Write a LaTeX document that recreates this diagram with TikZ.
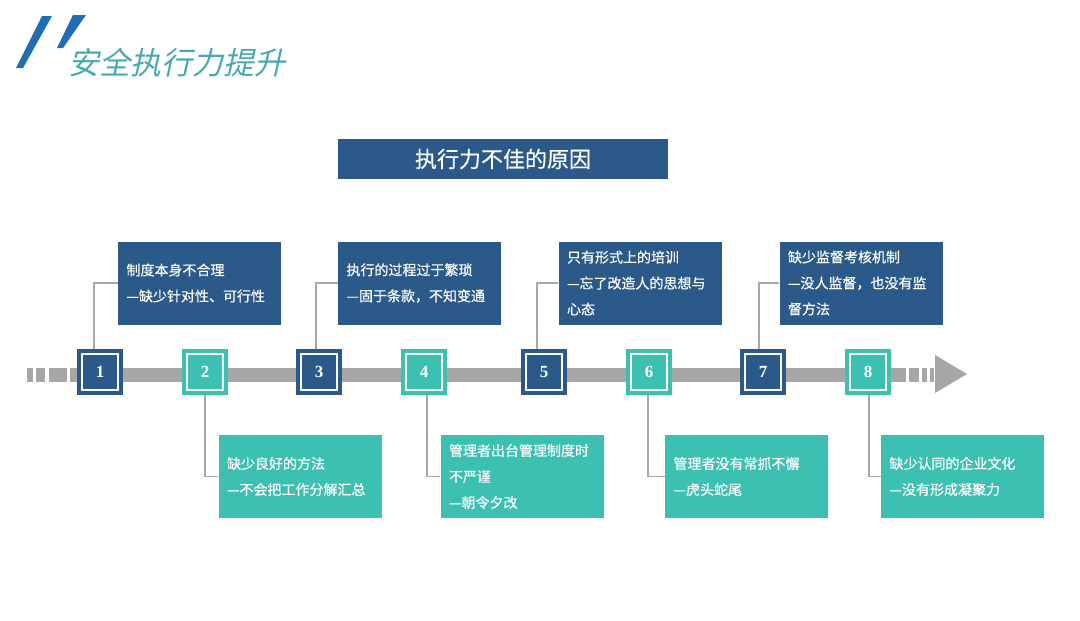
\documentclass[tikz,border=0pt]{standalone}
\usepackage{fontspec}
\setmainfont{Noto Sans CJK SC}
\newfontfamily\titlefont[FakeSlant=0.22]{Noto Sans CJK SC}
\newfontfamily\boxfont[FakeBold=0.4]{Noto Sans CJK SC}
\newfontfamily\numfont{Liberation Serif}
\definecolor{dblue}{HTML}{2B5A8A}
\definecolor{tealb}{HTML}{3CC0B1}
\definecolor{bargray}{HTML}{A6A6A6}
\definecolor{linegray}{HTML}{A8A8A8}
\definecolor{titleblue}{HTML}{1E6DB5}
\definecolor{titleteal}{HTML}{48A9B2}
\tikzset{
  numsq/.style={minimum size=46pt, inner sep=0pt, text=white, fill=#1,
    font=\numfont\bfseries\fontsize{17}{17}\selectfont,
    path picture={\draw[white,line width=2pt]
      ([shift={(5pt,5pt)}]path picture bounding box.south west) rectangle
      ([shift={(-5pt,-5pt)}]path picture bounding box.north east);}},
  txtbox/.style={fill=#1, minimum width=163pt, minimum height=83pt, text width=146pt,
    inner sep=0pt, align=left, text=white, font=\boxfont\fontsize{14}{26}\selectfont},
  conn/.style={draw=linegray, line width=1.1pt},
  barpart/.style={fill=bargray}
}
\begin{document}
\begin{tikzpicture}[x=1pt,y=-1pt]
\useasboundingbox (0,0) rectangle (1080,621);
\fill[white] (0,0) rectangle (1080,621);
% title decoration
\fill[titleblue] (16,68) -- (23,68) -- (52,16) -- (42,16) -- cycle;
\fill[titleblue] (57,48) -- (63,48) -- (86,15) -- (73,15) -- cycle;
\node[anchor=west, inner sep=0pt, font=\titlefont\fontsize{31}{31}\selectfont, text=titleteal] (title) at (68,63) {安全执行力提升};
% header
\node[fill=dblue, minimum width=330pt, minimum height=40pt, inner sep=0pt, text=white, font=\boxfont\fontsize{22}{22}\selectfont] (head) at (503,159) {执行力不佳的原因};
% timeline bar
\fill[barpart] (27,368) rectangle (33,382);
\fill[barpart] (36,368) rectangle (45,382);
\fill[barpart] (49,368) rectangle (67,382);
\fill[barpart] (70,368) rectangle (892,382);
\fill[barpart] (892,368) rectangle (906,382);
\fill[barpart] (909,368) rectangle (919,382);
\fill[barpart] (922,368) rectangle (927,382);
\fill[barpart] (930,368) rectangle (934,382);
\fill[barpart] (935,355) -- (967,374) -- (935,393) -- cycle;
% text boxes
\node[txtbox=dblue] (b1) at (199.5,283) {制度本身不合理\\—缺少针对性、可行性};
\node[txtbox=dblue] (b3) at (419.5,283) {执行的过程过于繁琐\\—固于条款，不知变通};
\node[txtbox=dblue] (b5) at (640,283) {只有形式上的培训\\—忘了改造人的思想与\\心态};
\node[txtbox=dblue] (b7) at (861,283) {缺少监督考核机制\\—没人监督，也没有监\\督方法};
\node[txtbox=tealb] (b2) at (300,476.5) {缺少良好的方法\\—不会把工作分解汇总};
\node[txtbox=tealb] (b4) at (522,476.5) {管理者出台管理制度时\\不严谨\\—朝令夕改};
\node[txtbox=tealb] (b6) at (746.5,476.5) {管理者没有常抓不懈\\—虎头蛇尾};
\node[txtbox=tealb] (b8) at (962.5,476.5) {缺少认同的企业文化\\—没有形成凝聚力};
% number squares
\node[numsq=dblue] (n1) at (100,372) {1};
\node[numsq=tealb] (n2) at (205,372) {2};
\node[numsq=dblue] (n3) at (319,372) {3};
\node[numsq=tealb] (n4) at (424,372) {4};
\node[numsq=dblue] (n5) at (544,372) {5};
\node[numsq=tealb] (n6) at (649,372) {6};
\node[numsq=dblue] (n7) at (763,372) {7};
\node[numsq=tealb] (n8) at (868,372) {8};
% connectors
\draw[conn] ([xshift=-6pt]n1.north) |- (b1.west);
\draw[conn] ([xshift=-3pt]n3.north) |- (b3.west);
\draw[conn] ([xshift=-7pt]n5.north) |- (b5.west);
\draw[conn] ([xshift=-4pt]n7.north) |- (b7.west);
\draw[conn] (n2.south) |- (b2.west);
\draw[conn] ([xshift=3pt]n4.south) |- (b4.west);
\draw[conn] ([xshift=-1pt]n6.south) |- (b6.west);
\draw[conn] ([xshift=1pt]n8.south) |- (b8.west);
\end{tikzpicture}
\end{document}
